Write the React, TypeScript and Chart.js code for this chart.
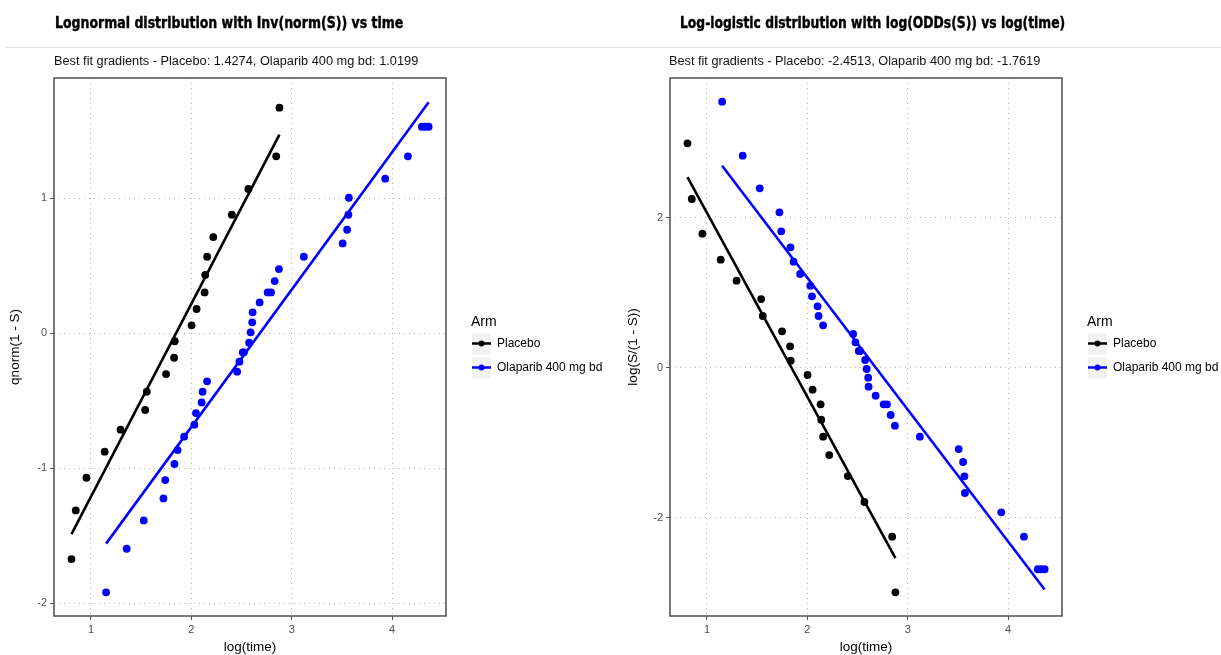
import React, { useEffect, useRef } from "react";
import { Chart, registerables } from "chart.js";

Chart.register(...registerables);

// ---------- data ----------
const armNames = ["Placebo", "Olaparib 400 mg bd"];
const armColors = ["#000000", "#0000ff"];
const legendTitle = "Arm";

const xTicks = [1, 2, 3, 4];
const leftYTicks = [-2, -1, 0, 1];
const rightYTicks = [-2, 0, 2];

const placeboLogTime = [0.806, 0.849, 0.955, 1.137, 1.295, 1.54, 1.556, 1.748, 1.828, 1.834, 2.002, 2.052, 2.132, 2.138, 2.157, 2.218, 2.403, 2.568, 2.845, 2.877];
const placeboQnorm = [-1.674, -1.314, -1.072, -0.879, -0.716, -0.57, -0.435, -0.304, -0.183, -0.061, 0.057, 0.178, 0.301, 0.43, 0.565, 0.711, 0.876, 1.067, 1.309, 1.669];
const placeboLogOdds = [2.989, 2.247, 1.784, 1.438, 1.158, 0.913, 0.687, 0.482, 0.282, 0.091, -0.1, -0.296, -0.491, -0.696, -0.922, -1.167, -1.447, -1.793, -2.256, -2.998];

const olaparibLogTime = [1.151, 1.356, 1.526, 1.722, 1.74, 1.832, 1.863, 1.928, 2.03, 2.046, 2.102, 2.112, 2.157, 2.456, 2.479, 2.512, 2.524, 2.575, 2.59, 2.606, 2.61, 2.68, 2.76, 2.793, 2.83, 2.872, 3.12, 3.507, 3.551, 3.564, 3.569, 3.931, 4.157, 4.295, 4.327, 4.363];
const olaparibQnorm = [-1.921, -1.598, -1.388, -1.225, -1.089, -0.97, -0.867, -0.768, -0.679, -0.593, -0.514, -0.435, -0.358, -0.286, -0.212, -0.143, -0.143, -0.072, 0.005, 0.079, 0.153, 0.227, 0.301, 0.301, 0.385, 0.474, 0.565, 0.664, 0.765, 0.876, 1.002, 1.143, 1.309, 1.528, 1.528, 1.528];
const olaparibLogOdds = [3.544, 2.824, 2.389, 2.069, 1.816, 1.602, 1.411, 1.247, 1.091, 0.949, 0.816, 0.687, 0.562, 0.447, 0.336, 0.22, 0.22, 0.1, -0.02, -0.136, -0.256, -0.376, -0.491, -0.491, -0.633, -0.776, -0.922, -1.087, -1.26, -1.451, -1.673, -1.931, -2.256, -2.69, -2.69, -2.69];

// best-fit line end points
const placeboFitX = [0.806, 2.877];
const olaparibFitX = [1.151, 4.363];
const placeboFitQnorm = [-1.49, 1.47];
const olaparibFitQnorm = [-1.56, 1.71];
const placeboFitLogOdds = [2.54, -2.54];
const olaparibFitLogOdds = [2.69, -2.96];

const titles = [
  "Lognormal distribution with Inv(norm(S)) vs time",
  "Log-logistic distribution with log(ODDs(S)) vs log(time)",
];
const subtitles = [
  "Best fit gradients - Placebo: 1.4274, Olaparib 400 mg bd: 1.0199",
  "Best fit gradients - Placebo: -2.4513, Olaparib 400 mg bd: -1.7619",
];
const xTitle = "log(time)";
const yTitles = ["qnorm(1 - S)", "log(S/(1 - S))"];

// ---------- layout ----------
const H = 655;
const PLOT_TOP = 78;
const PLOT_BOTTOM = 616;
const SANS = '"Liberation Sans", Arial, Helvetica, sans-serif';

type PanelProps = {
  left: number;
  width: number;
  plotLeft: number;
  plotRight: number;
  yMin: number;
  yMax: number;
  yTicks: number[];
  yTitle: string;
  yTitlePad: number;
  pY: number[];
  oY: number[];
  pFitY: number[];
  oFitY: number[];
};

function Panel(p: PanelProps) {
  const ref = useRef<HTMLCanvasElement>(null);
  useEffect(() => {
    const canvas = ref.current!;
    const legendPlugin = {
      id: "ggLegendBorder",
      afterDraw(chart: any) {
        const ctx = chart.ctx as CanvasRenderingContext2D;
        const a = chart.chartArea;
        ctx.save();
        ctx.strokeStyle = "#4d4d4d";
        ctx.lineWidth = 1.5;
        ctx.strokeRect(a.left, a.top, a.right - a.left, a.bottom - a.top);
        const lx = a.right + 25;
        ctx.fillStyle = "#000";
        ctx.textAlign = "left";
        ctx.textBaseline = "middle";
        ctx.font = `14px ${SANS}`;
        ctx.fillText(legendTitle, lx, 322.5);
        const rows = [343.5, 367.5];
        armNames.forEach((name, i) => {
          const cy = rows[i];
          ctx.fillStyle = "#f2f2f2";
          ctx.fillRect(lx + 1, cy - 10, 19, 21);
          ctx.strokeStyle = armColors[i];
          ctx.lineWidth = 2.5;
          ctx.beginPath();
          ctx.moveTo(lx + 1, cy);
          ctx.lineTo(lx + 20, cy);
          ctx.stroke();
          ctx.fillStyle = armColors[i];
          ctx.beginPath();
          ctx.arc(lx + 10.5, cy, 3, 0, Math.PI * 2);
          ctx.fill();
          ctx.fillStyle = "#000";
          ctx.font = `12px ${SANS}`;
          ctx.fillText(name, lx + 26, cy + 0.5);
        });
        ctx.restore();
      },
    };

    const pts = (xs: number[], ys: number[]) => xs.map((x, i) => ({ x, y: ys[i] }));

    const chart = new Chart(canvas, {
      type: "scatter",
      data: {
        datasets: [
          {
            label: armNames[0],
            data: pts(placeboLogTime, p.pY),
            backgroundColor: armColors[0],
            borderWidth: 0,
            pointRadius: 3.9,
          },
          {
            label: armNames[1],
            data: pts(olaparibLogTime, p.oY),
            backgroundColor: armColors[1],
            borderWidth: 0,
            pointRadius: 3.9,
          },
          {
            type: "line",
            label: armNames[0] + " fit",
            data: pts(placeboFitX, p.pFitY),
            borderColor: armColors[0],
            borderWidth: 2.6,
            pointRadius: 0,
            showLine: true,
            fill: false,
          } as any,
          {
            type: "line",
            label: armNames[1] + " fit",
            data: pts(olaparibFitX, p.oFitY),
            borderColor: armColors[1],
            borderWidth: 2.6,
            pointRadius: 0,
            showLine: true,
            fill: false,
          } as any,
        ],
      },
      options: {
        animation: false,
        responsive: false,
        devicePixelRatio: 1,
        layout: {
          padding: { top: PLOT_TOP, right: p.left + p.width - p.plotRight, left: 0, bottom: 0 },
        },
        plugins: {
          legend: { display: false },
          tooltip: { enabled: false },
        },
        scales: {
          x: {
            type: "linear",
            min: 0.632,
            max: 4.536,
            afterBuildTicks: (s: any) => {
              s.ticks = xTicks.map((v) => ({ value: v }));
            },
            afterFit: (s: any) => {
              s.height = H - PLOT_BOTTOM;
            },
            ticks: {
              color: "#4d4d4d",
              font: { size: 11, family: SANS },
              padding: 3,
              callback: (v: any) => String(v),
            },
            grid: {
              color: "#b4b4b4",
              lineWidth: 1,
              tickColor: "#555",
              tickLength: 4,
              tickWidth: 1,
            },
            border: { display: false, dash: [1, 4] },
            title: {
              display: true,
              text: xTitle,
              color: "#000",
              font: { size: 13.5, family: SANS },
              padding: { top: 0, bottom: 0 },
            },
          },
          y: {
            type: "linear",
            min: p.yMin,
            max: p.yMax,
            afterBuildTicks: (s: any) => {
              s.ticks = p.yTicks.map((v) => ({ value: v }));
            },
            afterFit: (s: any) => {
              s.width = p.plotLeft - p.left;
            },
            ticks: {
              color: "#4d4d4d",
              font: { size: 11, family: SANS },
              padding: 3,
              callback: (v: any) => String(v),
            },
            grid: {
              color: "#b4b4b4",
              lineWidth: 1,
              tickColor: "#555",
              tickLength: 4,
              tickWidth: 1,
            },
            border: { display: false, dash: [1, 4] },
            title: {
              display: true,
              text: p.yTitle,
              color: "#000",
              font: { size: 13.5, family: SANS },
              padding: { top: p.yTitlePad, bottom: 0 },
            },
          },
        },
      } as any,
      plugins: [legendPlugin],
    });
    return () => chart.destroy();
  }, []);
  return (
    <canvas
      ref={ref}
      width={p.width}
      height={H}
      style={{ position: "absolute", left: p.left, top: 0, width: p.width, height: H }}
    />
  );
}

function FitText(props: { text: string; left: number; cy: number; width: number; style: React.CSSProperties }) {
  const ref = useRef<HTMLDivElement>(null);
  useEffect(() => {
    const el = ref.current!;
    const w = el.offsetWidth;
    const k = w > 0 ? props.width / w : 1;
    el.style.transform = `translateY(-50%) scaleX(${k})`;
  }, []);
  return (
    <div
      ref={ref}
      style={{
        position: "absolute",
        left: props.left,
        top: props.cy,
        whiteSpace: "nowrap",
        transformOrigin: "left center",
        transform: "translateY(-50%)",
        lineHeight: 1.2,
        ...props.style,
      }}
    >
      {props.text}
    </div>
  );
}

export default function App() {
  const titleStyle: React.CSSProperties = {
    font: 'bold 15px "DejaVu Sans Condensed", "DejaVu Sans", sans-serif',
    color: "#000",
    WebkitTextStroke: "0.4px #000",
  };
  const subStyle: React.CSSProperties = {
    font: `12px ${SANS}`,
    color: "#111",
  };
  return (
    <div
      style={{
        position: "fixed",
        left: 0,
        top: 0,
        width: 1221,
        height: H,
        background: "#fff",
        overflow: "hidden",
      }}
    >
      <Panel
        left={0}
        width={610}
        plotLeft={54}
        plotRight={446}
        yMin={-2.096}
        yMax={1.889}
        yTicks={leftYTicks}
        yTitle={yTitles[0]}
        yTitlePad={7}
        pY={placeboQnorm}
        oY={olaparibQnorm}
        pFitY={placeboFitQnorm}
        oFitY={olaparibFitQnorm}
      />
      <Panel
        left={610}
        width={611}
        plotLeft={670}
        plotRight={1062}
        yMin={-3.313}
        yMax={3.86}
        yTicks={rightYTicks}
        yTitle={yTitles[1]}
        yTitlePad={15}
        pY={placeboLogOdds}
        oY={olaparibLogOdds}
        pFitY={placeboFitLogOdds}
        oFitY={olaparibFitLogOdds}
      />
      <div
        style={{ position: "absolute", left: 5, top: 47, width: 1216, height: 1, background: "#e2e2e2" }}
      />
      <FitText text={titles[0]} left={55} cy={23} width={348} style={titleStyle} />
      <FitText text={titles[1]} left={680} cy={23} width={385} style={titleStyle} />
      <FitText text={subtitles[0]} left={54} cy={61} width={364} style={subStyle} />
      <FitText text={subtitles[1]} left={669} cy={61} width={371} style={subStyle} />
    </div>
  );
}
